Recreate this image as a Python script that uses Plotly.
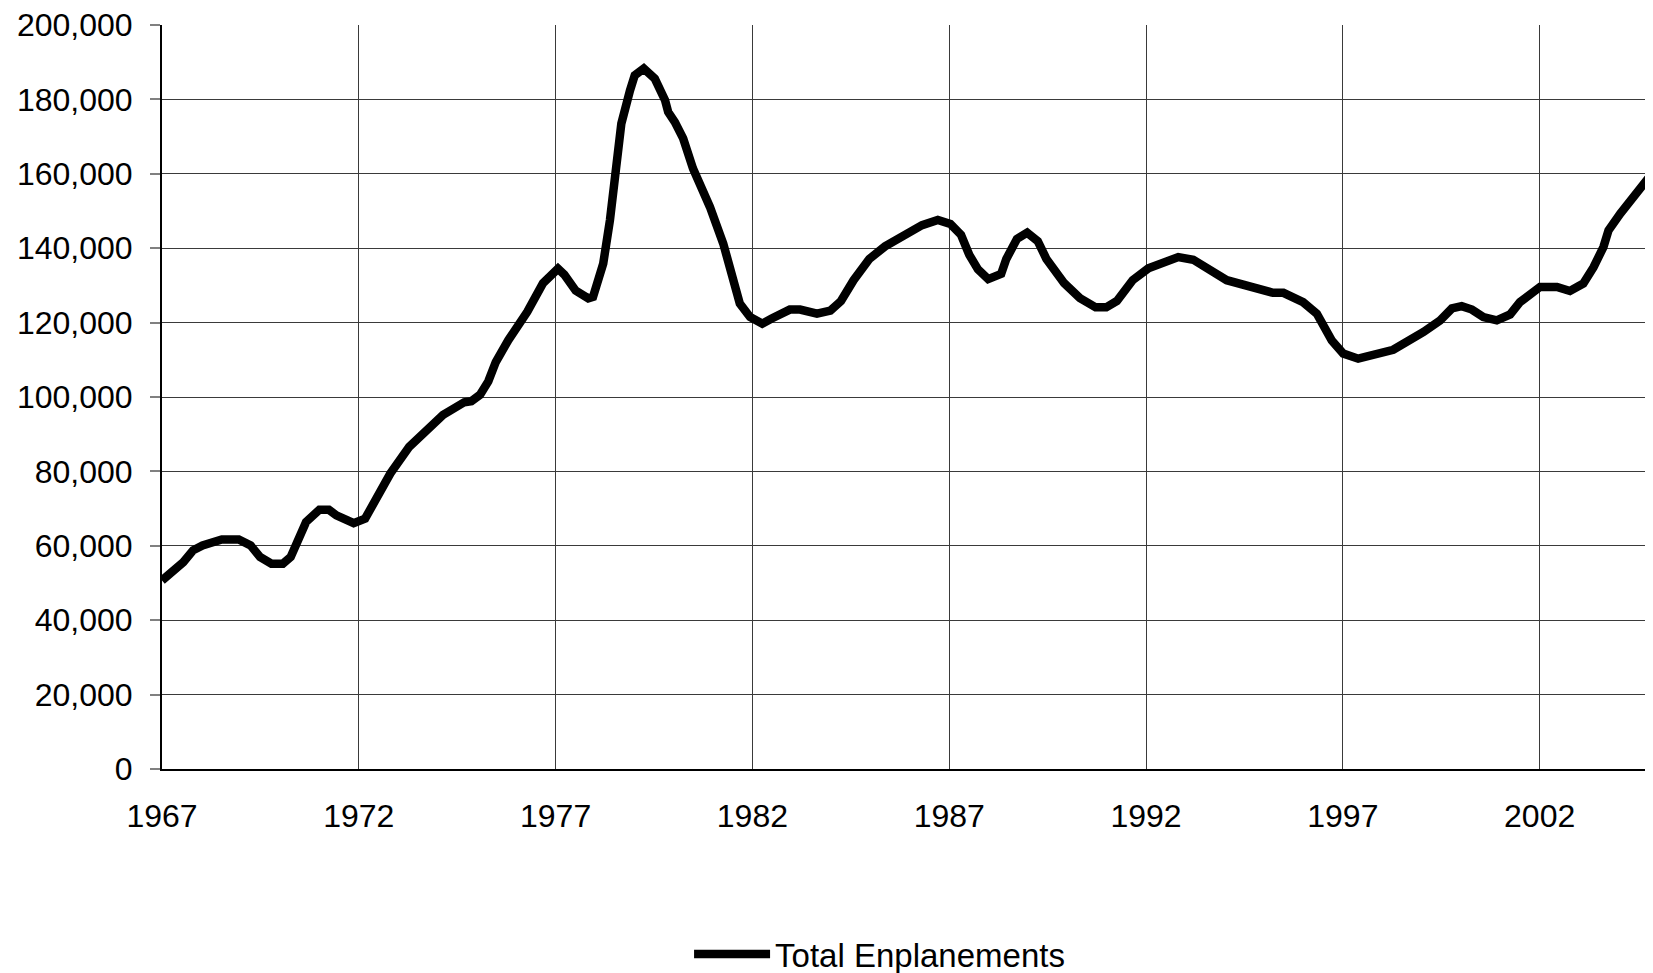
import plotly.graph_objects as go

# Decimal years and enplanements
years = [
    1967.00, 1967.54, 1967.79, 1968.03, 1968.52, 1968.95, 1969.25, 1969.49, 1969.78, 1970.07,
    1970.27, 1970.66, 1971.00, 1971.24, 1971.43, 1971.87, 1972.16, 1972.36, 1972.60, 1972.80,
    1973.28, 1973.87, 1974.14, 1974.68, 1974.86, 1975.08, 1975.29, 1975.48, 1975.80, 1976.28,
    1976.68, 1977.06, 1977.22, 1977.51, 1977.83, 1977.95, 1978.21, 1978.38, 1978.50, 1978.67,
    1978.89, 1979.01, 1979.24, 1979.52, 1979.78, 1979.86, 1980.03, 1980.24, 1980.49, 1980.92,
    1981.26, 1981.47, 1981.68, 1981.94, 1982.25, 1982.49, 1982.95, 1983.21, 1983.64, 1983.98,
    1984.25, 1984.57, 1984.97, 1985.37, 1985.83, 1986.31, 1986.71, 1987.03, 1987.30, 1987.51,
    1987.73, 1987.99, 1988.32, 1988.45, 1988.72, 1988.98, 1989.25, 1989.47, 1989.92, 1990.32,
    1990.72, 1990.99, 1991.26, 1991.66, 1992.06, 1992.82, 1993.20, 1993.80, 1994.05, 1995.23,
    1995.49, 1995.99, 1996.34, 1996.72, 1997.01, 1997.39, 1997.78, 1998.28, 1999.05, 1999.47,
    1999.77, 2000.02, 2000.28, 2000.57, 2000.91, 2001.25, 2001.50, 2002.01, 2002.44, 2002.77,
    2003.11, 2003.37, 2003.62, 2003.75, 2004.05, 2004.47, 2004.89, 2005.00,
]
enplanements = [
    50700, 55600, 58800, 60100, 61700, 61700, 60100, 57000, 55200, 55200,
    57000, 66400, 69700, 69700, 68200, 66100, 67300, 70900, 75800, 79400,
    86600, 92900, 95200, 98600, 98900, 100600, 104200, 109400, 115300, 122900,
    130600, 134500, 132900, 128600, 126500, 126900, 135900, 147500, 158300, 173500,
    182400, 186500, 188300, 185600, 179800, 176600, 173900, 169500, 161400, 151100,
    141200, 133200, 125100, 121500, 119700, 121100, 123500, 123500, 122400, 123200,
    125800, 131400, 137100, 140500, 143600, 146200, 147600, 146500, 143600, 138200,
    134300, 131700, 133100, 137100, 142500, 144200, 141900, 137100, 130600, 126600,
    124100, 124100, 125800, 131400, 134600, 137600, 136900, 132700, 131400, 128000,
    128000, 125500, 122400, 115200, 111700, 110300, 111500, 112700, 117500, 120600,
    123800, 124400, 123500, 121500, 120600, 122200, 125500, 129600, 129600, 128500,
    130500, 134900, 140300, 144800, 149300, 154800, 160700, 162000,
]
x_tick_years = [1967, 1972, 1977, 1982, 1987, 1992, 1997, 2002]
series_name = "Total Enplanements"

FONT = "Liberation Sans, Arial, sans-serif"

fig = go.Figure()
fig.add_trace(go.Scatter(
    x=years, y=enplanements, mode="lines", name=series_name,
    line=dict(color="black", width=8.5), showlegend=True,
))

fig.update_layout(
    width=1645, height=965,
    margin=dict(l=154, r=0, t=17, b=204, autoexpand=False),
    paper_bgcolor="white", plot_bgcolor="white",
    font=dict(family=FONT, size=32, color="black"),
    showlegend=True,
    legend=dict(
        orientation="h", x=0.3535, xanchor="left", y=-0.2487, yanchor="middle",
        itemwidth=76,
        font=dict(family=FONT, size=33, color="black"), bgcolor="rgba(0,0,0,0)",
    ),
)
fig.update_xaxes(
    range=[1967, 2004.88], tickvals=x_tick_years, ticktext=[str(v) for v in x_tick_years],
    showgrid=True, gridcolor="#3a3a3a", gridwidth=1,
    showline=True, linecolor="black", linewidth=2,
    ticks="", ticklabelstandoff=18, zeroline=False, ticklabeloverflow="allow",
    tickfont=dict(family=FONT, size=32, color="black"),
)
fig.update_yaxes(
    range=[0, 200000], dtick=20000, tickformat=",",
    showgrid=True, gridcolor="#3a3a3a", gridwidth=1,
    showline=True, linecolor="black", linewidth=2,
    ticks="outside", ticklen=10, tickcolor="#808080", tickwidth=2,
    ticklabelstandoff=11, zeroline=False, ticklabeloverflow="allow",
    tickfont=dict(family=FONT, size=32, color="black"),
)

fig.write_html("out.html")
